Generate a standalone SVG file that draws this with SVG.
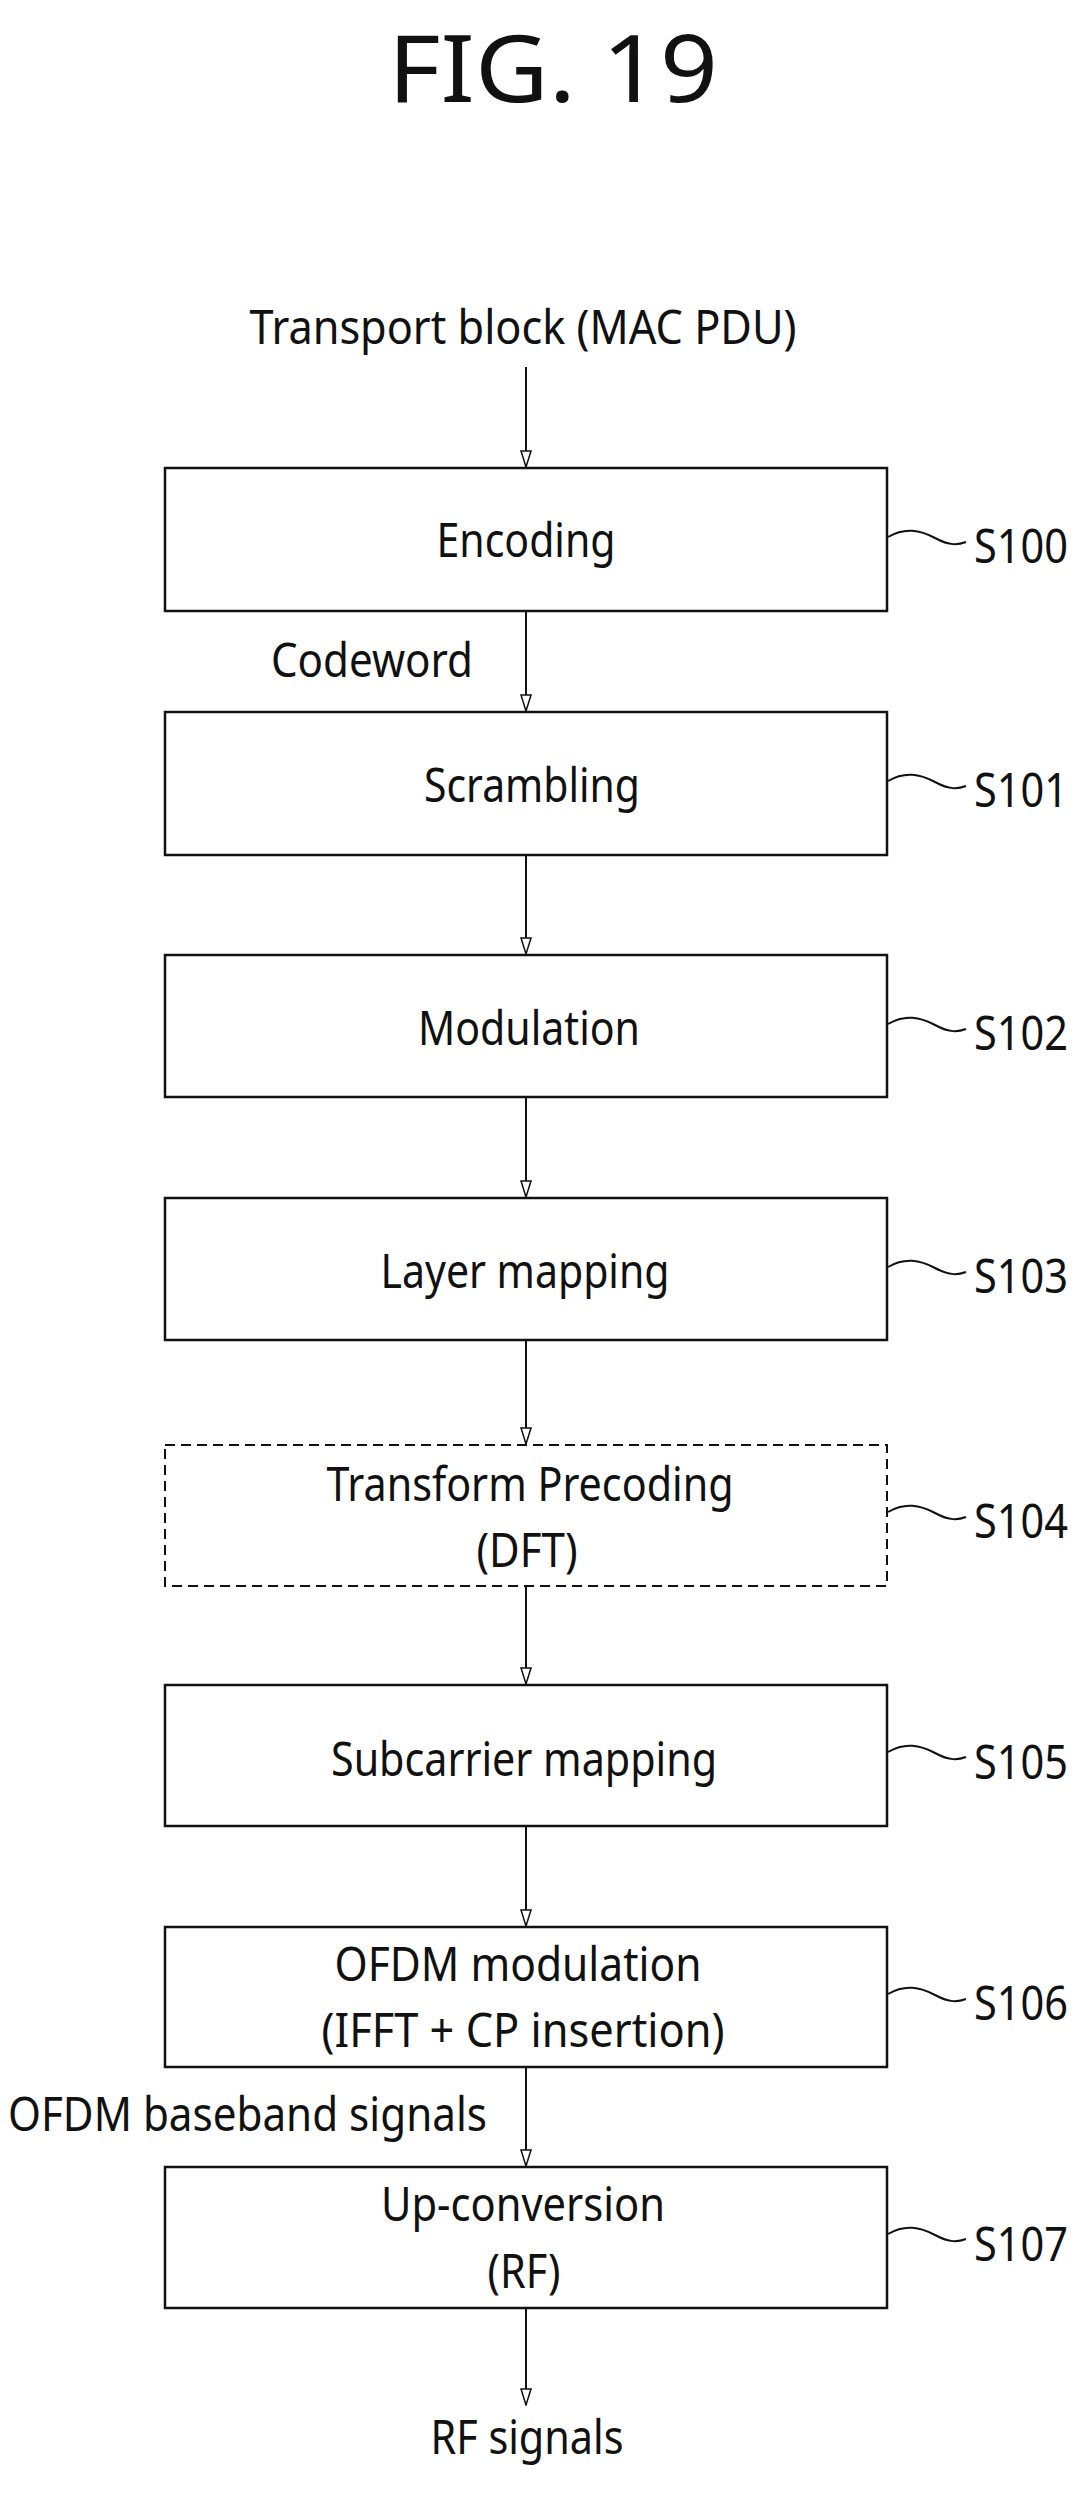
<svg xmlns="http://www.w3.org/2000/svg" width="1080" height="2508" viewBox="0 0 1080 2508">
<style>
text{font-family:"Noto Sans","Liberation Sans",sans-serif;font-size:48px;fill:#111}
.m{text-anchor:middle}
.b{fill:#fff;stroke:#111;stroke-width:2.5}
.d{stroke-dasharray:10 6;stroke-width:2}
.c{stroke:#111;stroke-width:2;fill:none}
.sq{stroke:#111;stroke-width:2;fill:none}
</style>
<defs>
<marker id="ah" markerWidth="18" markerHeight="12" refX="17" refY="6" orient="auto" markerUnits="userSpaceOnUse" viewBox="0 0 18 12">
<path d="M1,1 L17,6 L1,11 Z" fill="#fff" stroke="#111" stroke-width="1.5"/>
</marker>
</defs>
<text class="m" x="553" y="102" style="font-size:94px" textLength="330" lengthAdjust="spacingAndGlyphs">FIG. 19</text>
<text class="m" x="523" y="344" textLength="547" lengthAdjust="spacingAndGlyphs">Transport block (MAC PDU)</text>
<text x="271" y="677" textLength="202" lengthAdjust="spacingAndGlyphs">Codeword</text>
<text x="8" y="2131" textLength="479" lengthAdjust="spacingAndGlyphs">OFDM baseband signals</text>
<text class="m" x="527" y="2454" textLength="193" lengthAdjust="spacingAndGlyphs">RF signals</text>
<g id="connectors">
<line class="c" x1="526" y1="367" x2="526" y2="467" marker-end="url(#ah)"/>
<line class="c" x1="526" y1="611" x2="526" y2="711" marker-end="url(#ah)"/>
<line class="c" x1="526" y1="855" x2="526" y2="954" marker-end="url(#ah)"/>
<line class="c" x1="526" y1="1097" x2="526" y2="1197" marker-end="url(#ah)"/>
<line class="c" x1="526" y1="1340" x2="526" y2="1444" marker-end="url(#ah)"/>
<line class="c" x1="526" y1="1586" x2="526" y2="1684" marker-end="url(#ah)"/>
<line class="c" x1="526" y1="1826" x2="526" y2="1926" marker-end="url(#ah)"/>
<line class="c" x1="526" y1="2067" x2="526" y2="2166" marker-end="url(#ah)"/>
<line class="c" x1="526" y1="2308" x2="526" y2="2405" marker-end="url(#ah)"/>
</g>
<g id="s100"><rect class="b" x="165" y="468" width="722" height="143"/><text class="m" x="526" y="557" textLength="179" lengthAdjust="spacingAndGlyphs">Encoding</text><path class="sq" d="M888,537 C905,527 920,530 935,538 S958,545 966,542"/><text x="974" y="563" textLength="94" lengthAdjust="spacingAndGlyphs">S100</text></g>
<g id="s101"><rect class="b" x="165" y="712" width="722" height="143"/><text class="m" x="532" y="802" textLength="216" lengthAdjust="spacingAndGlyphs">Scrambling</text><path class="sq" d="M888,781 C905,771 920,774 935,782 S958,789 966,786"/><text x="974" y="807" textLength="94" lengthAdjust="spacingAndGlyphs">S101</text></g>
<g id="s102"><rect class="b" x="165" y="955" width="722" height="142"/><text class="m" x="529" y="1045" textLength="222" lengthAdjust="spacingAndGlyphs">Modulation</text><path class="sq" d="M888,1024 C905,1014 920,1017 935,1025 S958,1032 966,1029"/><text x="974" y="1050" textLength="94" lengthAdjust="spacingAndGlyphs">S102</text></g>
<g id="s103"><rect class="b" x="165" y="1198" width="722" height="142"/><text class="m" x="525" y="1288" textLength="289" lengthAdjust="spacingAndGlyphs">Layer mapping</text><path class="sq" d="M888,1267 C905,1257 920,1260 935,1268 S958,1275 966,1272"/><text x="974" y="1293" textLength="94" lengthAdjust="spacingAndGlyphs">S103</text></g>
<g id="s104"><rect class="b d" x="165" y="1445" width="722" height="141"/><text class="m" x="530" y="1501" textLength="407" lengthAdjust="spacingAndGlyphs">Transform Precoding</text><text class="m" x="527" y="1567" textLength="101" lengthAdjust="spacingAndGlyphs">(DFT)</text><path class="sq" d="M888,1512 C905,1502 920,1505 935,1513 S958,1520 966,1517"/><text x="974" y="1538" textLength="94" lengthAdjust="spacingAndGlyphs">S104</text></g>
<g id="s105"><rect class="b" x="165" y="1685" width="722" height="141"/><text class="m" x="524" y="1776" textLength="386" lengthAdjust="spacingAndGlyphs">Subcarrier mapping</text><path class="sq" d="M888,1752 C905,1742 920,1745 935,1753 S958,1760 966,1757"/><text x="974" y="1779" textLength="94" lengthAdjust="spacingAndGlyphs">S105</text></g>
<g id="s106"><rect class="b" x="165" y="1927" width="722" height="140"/><text class="m" x="518" y="1981" textLength="367" lengthAdjust="spacingAndGlyphs">OFDM modulation</text><text class="m" x="523" y="2047" textLength="403" lengthAdjust="spacingAndGlyphs">(IFFT + CP insertion)</text><path class="sq" d="M888,1994 C905,1984 920,1987 935,1995 S958,2002 966,1999"/><text x="974" y="2020" textLength="94" lengthAdjust="spacingAndGlyphs">S106</text></g>
<g id="s107"><rect class="b" x="165" y="2167" width="722" height="141"/><text class="m" x="523" y="2221" textLength="284" lengthAdjust="spacingAndGlyphs">Up-conversion</text><text class="m" x="524" y="2288" textLength="73" lengthAdjust="spacingAndGlyphs">(RF)</text><path class="sq" d="M888,2234 C905,2224 920,2227 935,2235 S958,2242 966,2239"/><text x="974" y="2261" textLength="94" lengthAdjust="spacingAndGlyphs">S107</text></g>
</svg>
